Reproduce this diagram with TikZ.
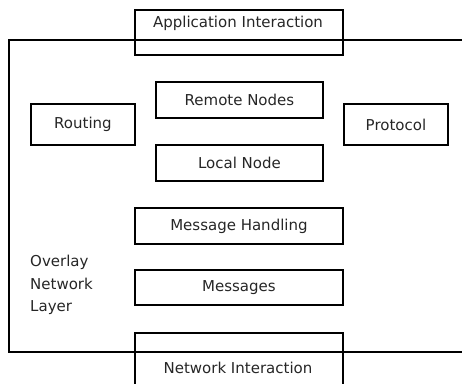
\documentclass[tikz,border=0pt]{standalone}
\usepackage{fontspec}
\setmainfont{DejaVu Sans}
\begin{document}
\begin{tikzpicture}[x=1pt,y=-1pt,
  box/.style={draw=black, line width=1.9pt, rectangle, inner sep=0pt, anchor=north west},
  txt/.style={font=\fontsize{15}{18}\selectfont, text=black!85, inner sep=0pt}]
\useasboundingbox (0,0) rectangle (462,383);
\clip (0,0) rectangle (462,383);
% outer layer
\draw[line width=1.9pt] (480,40) -- (9,40) -- (9,352) -- (480,352);
\node[box, minimum width=208pt, minimum height=45pt] (app) at (134,9) {};
\node[txt] (apptxt) at (238,23) {Application Interaction};
\node[box, minimum width=167pt, minimum height=36pt] (remote) at (155,81) {};
\node[txt] at (remote.center) {Remote Nodes};
\node[box, minimum width=104pt, minimum height=41pt] (routing) at (30,103) {};
\node[txt] at (routing.center) {Routing};
\node[box, minimum width=104pt, minimum height=41pt] (protocol) at (343,103) {};
\node[txt] at (protocol.center) {Protocol};
\node[box, minimum width=167pt, minimum height=36pt] (local) at (155,144) {};
\node[txt] at (local.center) {Local Node};
\node[box, minimum width=208pt, minimum height=36pt] (handling) at (134,207) {};
\node[txt] at (handling.center) {Message Handling};
\node[box, minimum width=208pt, minimum height=35pt] (messages) at (134,269) {};
\node[txt] at (messages.center) {Messages};
\node[box, minimum width=208pt, minimum height=70pt] (net) at (134,332) {};
\node[txt] (nettxt) at (238,368) {Network Interaction};
\node[txt, align=left, anchor=north west, font=\fontsize{15}{22.5}\selectfont] (overlay) at (30,255) {Overlay\\Network\\Layer};
\end{tikzpicture}
\end{document}
